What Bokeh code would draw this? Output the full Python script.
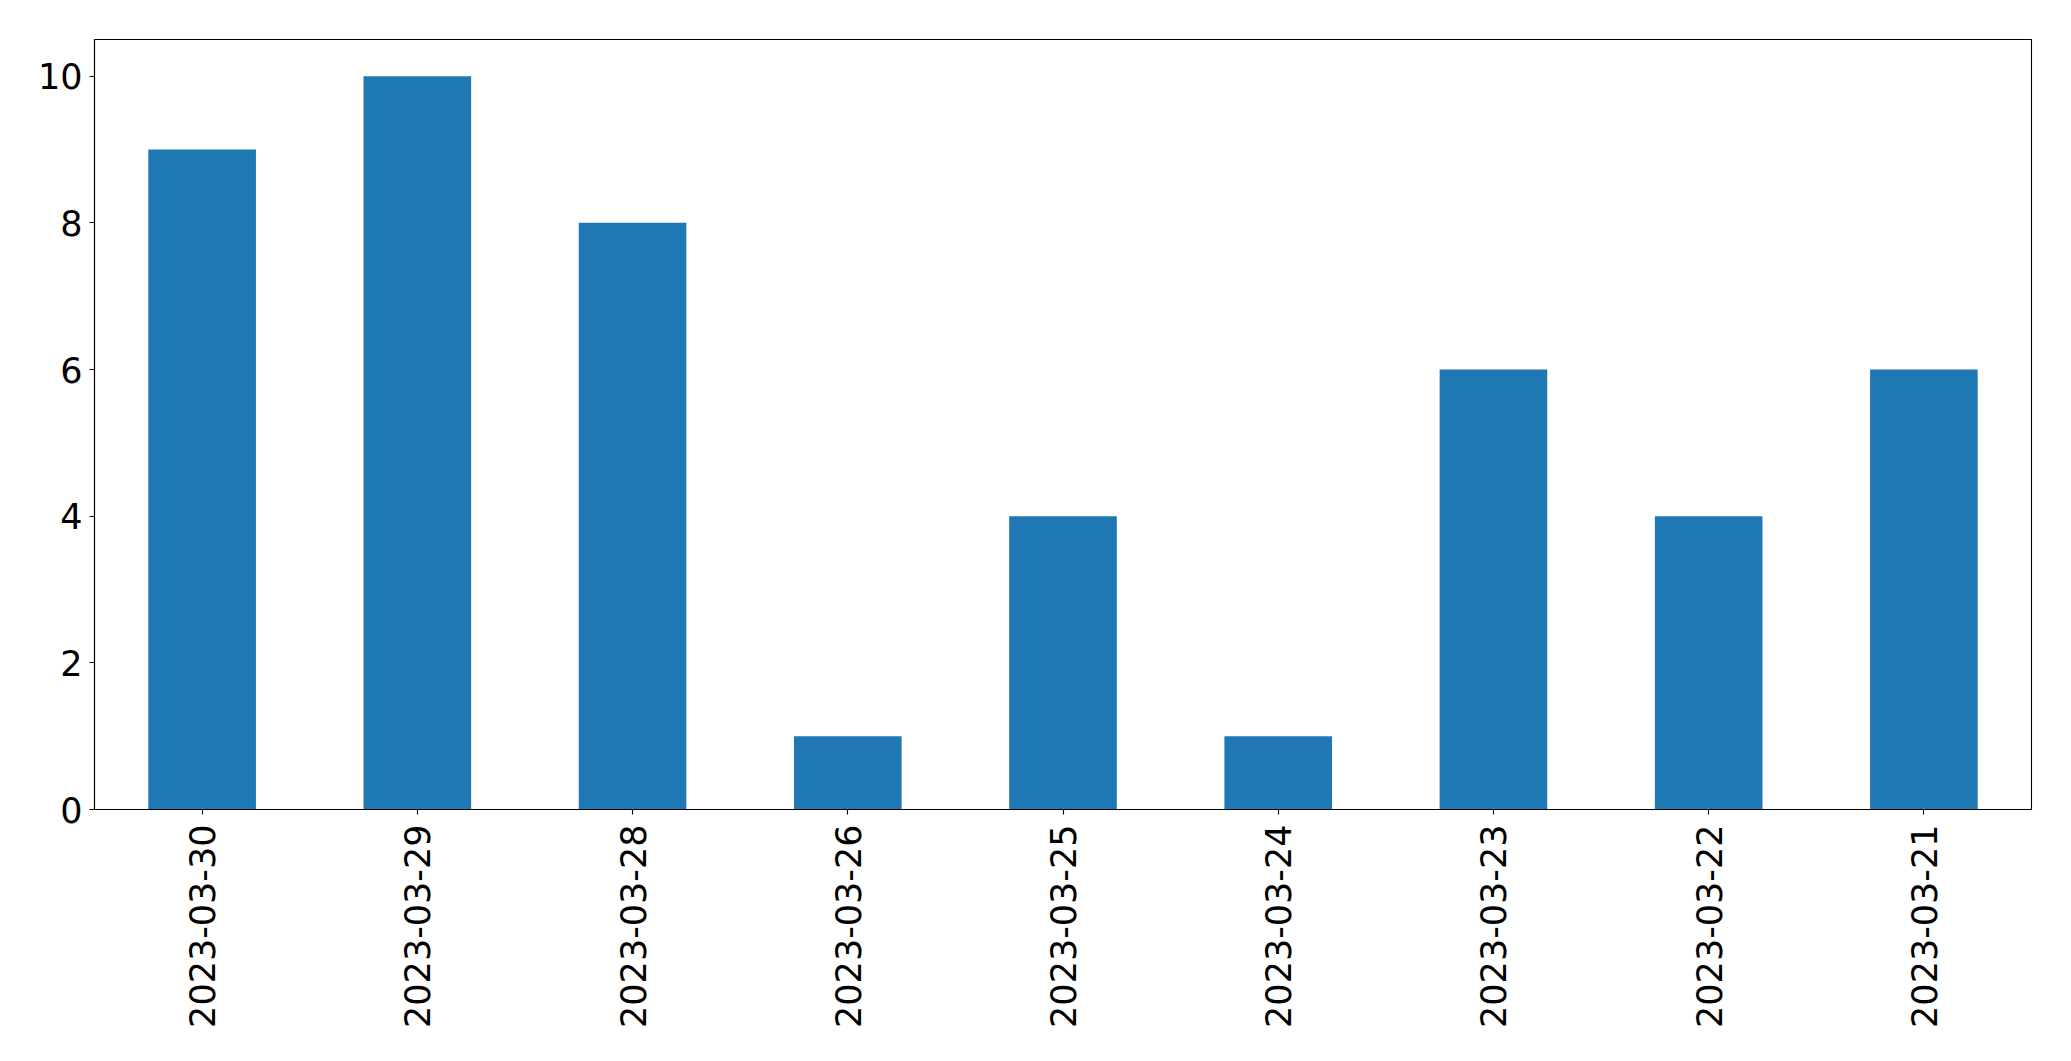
import math
from bokeh.plotting import figure
from bokeh.models import FactorRange, Range1d, FixedTicker, ColumnDataSource
from bokeh.embed import file_html
from bokeh.resources import INLINE

dates = ["2023-03-30", "2023-03-29", "2023-03-28", "2023-03-26", "2023-03-25",
         "2023-03-24", "2023-03-23", "2023-03-22", "2023-03-21"]
counts = [9, 10, 8, 1, 4, 1, 6, 4, 6]
y_ticks = [0, 2, 4, 6, 8, 10]

src = ColumnDataSource(dict(x=dates, top=counts))

p = figure(width=2055, height=1045, output_backend="svg", toolbar_location=None,
           x_range=FactorRange(factors=dates, range_padding=0),
           y_range=Range1d(0, 10.5),
           min_border_left=94, min_border_right=24, min_border_top=39, min_border_bottom=236)

p.vbar(x="x", top="top", width=0.5, source=src, color="#1f77b4", line_color=None)

p.xgrid.visible = False
p.ygrid.visible = False
p.outline_line_color = "black"
p.outline_line_width = 1.1

for ax in (p.xaxis[0], p.yaxis[0]):
    ax.axis_line_color = "black"
    ax.axis_line_width = 1.1
    ax.major_tick_line_color = "black"
    ax.major_tick_line_width = 1.1
    ax.major_tick_out = 5
    ax.major_tick_in = 0
    ax.minor_tick_line_color = None
    ax.major_label_text_font = "DejaVu Sans"
    ax.major_label_text_font_size = "35px"
    ax.major_label_text_color = "black"

p.yaxis.ticker = FixedTicker(ticks=y_ticks)
p.yaxis.major_label_standoff = 7
p.xaxis.major_label_orientation = math.pi / 2
p.xaxis.major_label_standoff = 10
p.xaxis.group_text_font_size = "0px"

open("out.html", "w").write(file_html(p, INLINE))
